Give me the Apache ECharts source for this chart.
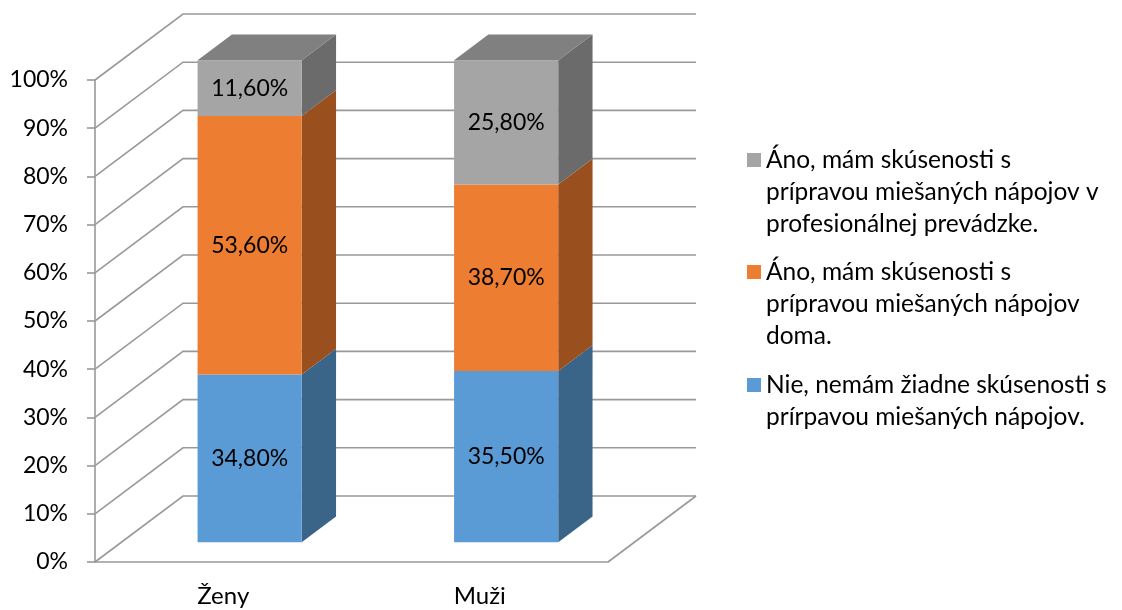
<!DOCTYPE html>
<html>
<head>
<meta charset="utf-8">
<script src="https://cdn.jsdelivr.net/npm/echarts@6/dist/echarts.min.js"></script>
<style>
  html, body { margin: 0; padding: 0; background: #ffffff; }
  #chart { width: 1122px; height: 610px; }
</style>
</head>
<body>
<div id="chart"></div>
<script>
// Categories and stacked shares (%) per group
const categories = ['Ženy', 'Muži'];
const noExperience = [34.8, 35.5];
const atHome = [53.6, 38.7];
const professional = [11.6, 25.8];

const seriesNames = [
  'Nie, nemám žiadne skúsenosti s prírpavou miešaných nápojov.',
  'Áno, mám skúsenosti s prípravou miešaných nápojov doma.',
  'Áno, mám skúsenosti s prípravou miešaných nápojov v profesionálnej prevádzke.'
];
const legendLines = [
  ['Nie, nemám žiadne skúsenosti s', 'prírpavou miešaných nápojov.'],
  ['Áno, mám skúsenosti s', 'prípravou miešaných nápojov', 'doma.'],
  ['Áno, mám skúsenosti s', 'prípravou miešaných nápojov v', 'profesionálnej prevádzke.']
];
const yTicks = [0, 10, 20, 30, 40, 50, 60, 70, 80, 90, 100];

// 3D look: depth offset of the back wall, bar depth span, colours
const DEPTH_X = 88, DEPTH_Y = 66;
const BAR_FRONT = 0.30, BAR_BACK = 0.69, BAR_RATIO = 0.406;
const FONT = 'Lato, "Open Sans", sans-serif';
const GRID_COLOR = '#999999';
const GRID_W = 1.6;
const LINE_H = 32;
const palette = [
  { front: '#5b9bd5', side: '#3b6588', top: '#4a7fb0' },
  { front: '#ed7d31', side: '#9a4f1e', top: '#c4672a' },
  { front: '#a5a5a5', side: '#6b6b6b', top: '#808080' }
];

const valueSets = [noExperience, atHome, professional];

function fmt(v) {
  return v.toFixed(2).replace('.', ',') + '%';
}

function renderWalls(params, api) {
  const v = api.value(0);
  const cs = params.coordSys;
  const y = api.coord([0, v])[1];
  const xl = cs.x, xr = cs.x + cs.width;
  const style = { stroke: GRID_COLOR, lineWidth: GRID_W, fill: null };
  const children = [
    { type: 'polyline', shape: { points: [[xl, y], [xl + DEPTH_X, y - DEPTH_Y], [xr + DEPTH_X, y - DEPTH_Y]] }, style: style }
  ];
  if (v === 0) {
    children.push({ type: 'line', shape: { x1: xr, y1: y, x2: xr + DEPTH_X, y2: y - DEPTH_Y }, style: style });
  }
  return { type: 'group', children: children };
}

function makeBarRenderer(segIndex, isTop) {
  const col = palette[segIndex];
  return function (params, api) {
    const i = api.value(0);
    const base = api.value(1);
    const val = api.value(2);
    const cx = api.coord([i, 0])[0];
    const band = api.size([1, 0])[0];
    const w = band * BAR_RATIO;
    const fdx = DEPTH_X * BAR_FRONT, fdy = DEPTH_Y * BAR_FRONT;
    const bdx = DEPTH_X * (BAR_BACK - BAR_FRONT), bdy = DEPTH_Y * (BAR_BACK - BAR_FRONT);
    const y0 = api.coord([i, base])[1] - fdy;
    const y1 = api.coord([i, base + val])[1] - fdy;
    const x0 = cx - w / 2 + fdx, x1 = cx + w / 2 + fdx;
    const children = [
      { type: 'polygon', shape: { points: [[x1, y0], [x1, y1], [x1 + bdx, y1 - bdy], [x1 + bdx, y0 - bdy]] },
        style: { fill: col.side } },
      { type: 'rect', shape: { x: x0, y: y1, width: x1 - x0, height: y0 - y1 }, style: { fill: col.front } }
    ];
    if (isTop) {
      children.push({ type: 'polygon', shape: { points: [[x0, y1], [x1, y1], [x1 + bdx, y1 - bdy], [x0 + bdx, y1 - bdy]] },
        style: { fill: col.top } });
    }
    children.push({ type: 'text', style: { text: fmt(val), x: (x0 + x1) / 2, y: (y0 + y1) / 2,
      align: 'center', verticalAlign: 'middle', fill: '#000000', fontSize: 23, fontFamily: FONT } });
    return { type: 'group', children: children };
  };
}

const series = [{
  type: 'custom',
  name: 'walls',
  renderItem: renderWalls,
  data: yTicks.map(function (t) { return [t]; }),
  encode: { y: 0 },
  silent: true,
  z: 1
}];

valueSets.forEach(function (vals, s) {
  const data = vals.map(function (v, i) {
    let base = 0;
    for (let k = 0; k < s; k++) base += valueSets[k][i];
    return [i, base, v];
  });
  series.push({
    type: 'custom',
    name: seriesNames[s],
    renderItem: makeBarRenderer(s, s === valueSets.length - 1),
    data: data,
    encode: { x: 0, y: 2 },
    itemStyle: { color: palette[s].front },
    z: 2 + s
  });
});

// One legend block per entry. Blank lines ahead of the text keep the
// marker level with the first text line (legend text is centred on it).
const firstLineY = [385, 272, 160];
const legends = [2, 1, 0].map(function (s) {
  const lines = legendLines[s];
  const lead = lines.length - 1;
  const text = new Array(lead + 1).join('\n') + lines.join('\n');
  return {
    data: [seriesNames[s]],
    left: 747,
    top: firstLineY[s] - LINE_H / 2 - lead * LINE_H,
    padding: 0,
    itemWidth: 14,
    itemHeight: 14,
    icon: 'rect',
    formatter: function () { return text; },
    textStyle: { fontSize: 24.5, lineHeight: LINE_H, color: '#000000', fontFamily: FONT }
  };
});

const chart = echarts.init(document.getElementById('chart'));
chart.setOption({
  animation: false,
  backgroundColor: '#ffffff',
  grid: { left: 95, right: 514, top: 80, bottom: 48 },
  legend: legends,
  xAxis: {
    type: 'category',
    data: categories,
    axisLine: { lineStyle: { color: GRID_COLOR, width: GRID_W } },
    axisTick: { length: 8, lineStyle: { color: GRID_COLOR, width: GRID_W } },
    axisLabel: { fontSize: 24, color: '#000000', fontFamily: FONT, margin: 22 }
  },
  yAxis: {
    type: 'value',
    min: 0,
    max: 100,
    interval: 10,
    axisLine: { show: true, lineStyle: { color: GRID_COLOR, width: GRID_W } },
    axisTick: { show: true, length: 8, lineStyle: { color: GRID_COLOR, width: GRID_W } },
    splitLine: { show: false },
    axisLabel: { formatter: '{value}%', fontSize: 23, color: '#000000', fontFamily: FONT, margin: 27 }
  },
  series: series
});
</script>
</body>
</html>
